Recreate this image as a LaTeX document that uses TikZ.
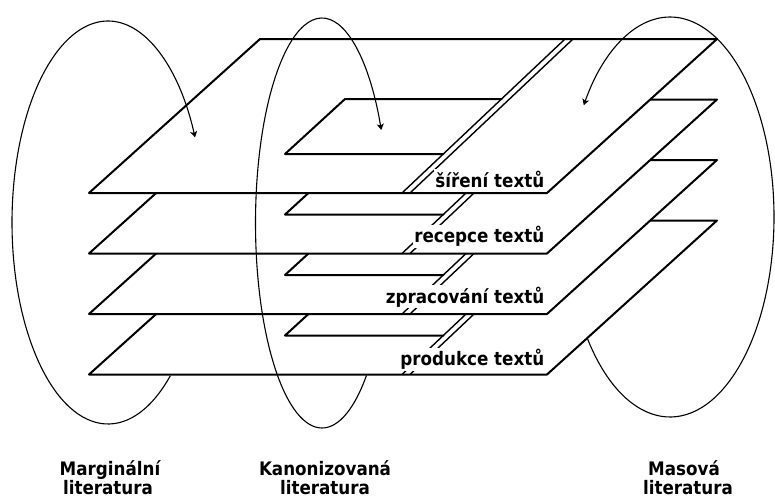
\documentclass[tikz,border=0pt]{standalone}
\usepackage{fontspec}
\newfontfamily\labfont{DejaVu Sans}[FakeStretch=0.9]
\usetikzlibrary{arrows.meta}

\tikzset{
  planeedge/.style={line width=2pt, line join=round, line cap=round},
  cutline/.style={line width=1.4pt},
  ringarrow/.style={line width=1.1pt, -{Stealth[length=6pt,width=7pt,inset=1.5pt]}},
  layerlab/.style={fill=white, inner sep=1.5pt, anchor=base east,
    font=\labfont\bfseries\fontsize{18.6}{20}\selectfont},
  botlab/.style={inner sep=0pt, anchor=base,
    font=\labfont\bfseries\fontsize{18.6}{20}\selectfont},
}

\begin{document}
\begin{tikzpicture}[x=1pt, y=1pt, yscale=-1]
  \useasboundingbox (0,0) rectangle (775,498);
  \fill[white] (0,0) rectangle (775,498);

  % four stacked layers, drawn from the lowest one upwards
  \foreach \k/\txt/\base in {3/produkce textů/365.5, 2/zpracování textů/303, 1/recepce textů/242.5, 0/šíření textů/187}{
    \pgfmathsetmacro\dy{60.5*\k}
    % opaque layer surface
    \fill[white] (89,{193+\dy}) -- (547,{193+\dy}) -- (717,{39+\dy}) -- (260,{39+\dy}) -- cycle;
    % the smaller inner plane
    \draw[planeedge] (501.5,{99+\dy}) -- (345,{99+\dy}) -- (285,{154+\dy}) -- (443.3,{154+\dy});
    % double break line across the layer
    \draw[cutline] (402,{193+\dy}) -- (565,{39+\dy});
    \draw[cutline] (410,{193+\dy}) -- (573,{39+\dy});
    % layer name
    \node[layerlab] (lab\k) at (546,\base) {\txt};
    % layer outline
    \draw[planeedge] (89,{193+\dy}) -- (547,{193+\dy}) -- (717,{39+\dy}) -- (260,{39+\dy}) -- cycle;
  }

  % the three literature domains
  \draw[ringarrow] (108,222.5) ++(49.5:96 and 201.5)
    arc[start angle=49.5, end angle=335, x radius=96, y radius=201.5];
  \draw[ringarrow] (322,223) ++(48:66.5 and 205)
    arc[start angle=48, end angle=333, x radius=66.5, y radius=205];
  \draw[ringarrow] (670,217) ++(142.5:104 and 200)
    arc[start angle=142.5, end angle=-146, x radius=104, y radius=200];

  % domain names
  \node[botlab] (marg1) at (110,475) {Marginální};
  \node[botlab] (marg2) at (108,494) {literatura};
  \node[botlab] (kan1) at (325,475) {Kanonizovaná};
  \node[botlab] (kan2) at (325,494) {literatura};
  \node[botlab] (mas1) at (684,475) {Masová};
  \node[botlab] (mas2) at (688,494) {literatura};
\end{tikzpicture}
\end{document}
